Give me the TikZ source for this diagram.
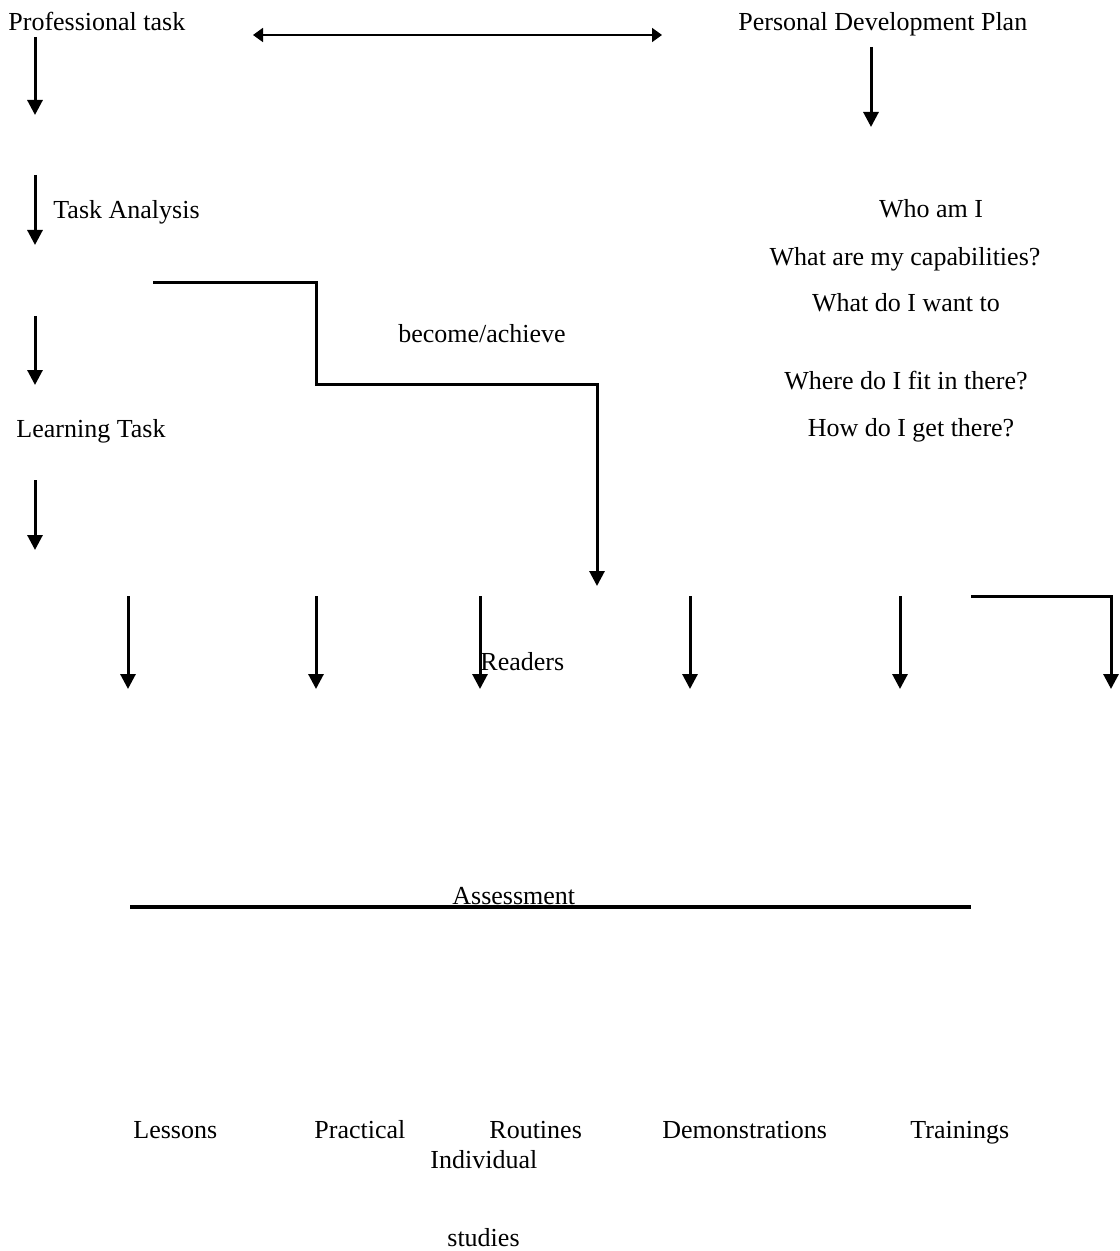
\documentclass[tikz,border=0pt]{standalone}
\usepackage{fontspec}
\setmainfont{Liberation Serif}
\usepackage{tikz}
\usetikzlibrary{arrows.meta,positioning}

\begin{document}
\begin{tikzpicture}[x=0.5pt, y=-0.5pt, font=\fontsize{13}{15}\selectfont,
  lbl/.style={anchor=base west,inner sep=0pt},
  qq/.style={anchor=base,inner sep=0pt},
  flow/.style={-{Triangle[length=7.5pt,width=7.5pt]},line width=1.5pt},
  twoway/.style={{Triangle[length=5pt,width=7pt]}-{Triangle[length=5pt,width=7pt]},line width=0.9pt}]
\useasboundingbox (0,0) rectangle (1119,1251);
% left column
\node[lbl] (prof) at (8,31) {Professional task};
\node[lbl] (ta) at (53,219) {Task Analysis};
\node[lbl] (lt) at (16,437) {Learning Task};
% right column
\node[lbl] (pdp) at (738,31) {Personal Development Plan};
\node[qq] (who) at (931,218) {Who am I};
\node[qq] (capab) at (905,266) {What are my capabilities?};
\node[qq] (want) at (906,312) {What do I want to};
\node[qq] (become) at (482,343) {become/achieve};
\node[qq] (fit) at (906,389) {Where do I fit in there?};
\node[qq] (getthere) at (911,436) {How do I get there?};
% middle and bottom
\node[lbl] (readers) at (480,670) {Readers};
\node[lbl] (assess) at (452,904) {Assessment};
\node[lbl] (lessons) at (133,1138) {Lessons};
\node[lbl] (practical) at (314,1138) {Practical};
\node[lbl] (routines) at (489,1138) {Routines};
\node[lbl] (demos) at (662,1138) {Demonstrations};
\node[lbl] (trainings) at (910,1138) {Trainings};
\node[lbl] (indiv) at (430,1168) {Individual};
\node[lbl] (studies) at (447,1246) {studies};
% arrow ends
\coordinate (dblL) at (253,35); \coordinate (dblR) at (662,35);
\coordinate (a1s) at (35,37);  \coordinate (a1e) at (35,115);
\coordinate (a2s) at (35,175); \coordinate (a2e) at (35,245);
\coordinate (a3s) at (35,316); \coordinate (a3e) at (35,385);
\coordinate (a4s) at (35,480); \coordinate (a4e) at (35,550);
\coordinate (pds) at (871,47); \coordinate (pde) at (871,127);
\coordinate (stepA) at (153,283); \coordinate (stepB) at (316,384); \coordinate (stepC) at (597,586);
\coordinate (b1s) at (128,596); \coordinate (b1e) at (128,689);
\coordinate (b2s) at (316,596); \coordinate (b2e) at (316,689);
\coordinate (b3s) at (480,596); \coordinate (b3e) at (480,689);
\coordinate (b4s) at (690,596); \coordinate (b4e) at (690,689);
\coordinate (b5s) at (900,596); \coordinate (b5e) at (900,689);
\coordinate (b6s) at (971,596); \coordinate (b6e) at (1111,689);
\coordinate (asL) at (130,907); \coordinate (asR) at (971,907);
% connectors
\draw[twoway] (dblL)--(dblR);
\draw[flow] (a1s)--(a1e); \draw[flow] (a2s)--(a2e);
\draw[flow] (a3s)--(a3e); \draw[flow] (a4s)--(a4e);
\draw[flow] (pds)--(pde);
\draw[flow] (stepA) -| (stepB) -| (stepC);
\draw[flow] (b1s)--(b1e); \draw[flow] (b2s)--(b2e); \draw[flow] (b3s)--(b3e);
\draw[flow] (b4s)--(b4e); \draw[flow] (b5s)--(b5e);
\draw[flow] (b6s) -| (b6e);
\draw[line width=2pt] (asL)--(asR);
\end{tikzpicture}
\end{document}
